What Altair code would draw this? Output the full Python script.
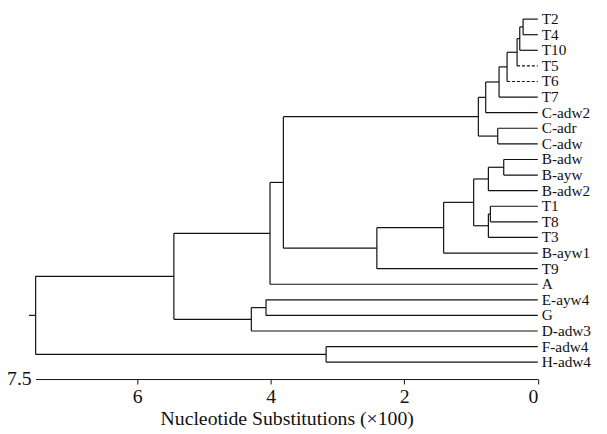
import altair as alt
import pandas as pd

# Leaves in top-to-bottom order
leaves = ["T2", "T4", "T10", "T5", "T6", "T7", "C-adw2", "C-adr", "C-adw",
          "B-adw", "B-ayw", "B-adw2", "T1", "T8", "T3", "B-ayw1", "T9", "A",
          "E-ayw4", "G", "D-adw3", "F-adw4", "H-adw4"]
dashed_leaves = ["T5", "T6"]

# Internal nodes: name, height (nucleotide substitutions x100), children
node_names = ["n1", "n2", "n3", "n4", "n5", "n6", "n7", "n8", "n9", "n10", "n11",
              "n12", "n13", "n14", "n15", "n16", "n17", "n18", "n19", "n20", "n21", "root"]
node_heights = [0.22, 0.27, 0.31, 0.46, 0.58, 0.78, 0.60, 0.89, 0.51, 0.74, 0.71,
                0.74, 0.96, 1.41, 2.41, 3.81, 4.01, 4.07, 4.29, 5.45, 3.17, 7.52]
node_children = [("T2", "T4"), ("n1", "T10"), ("n2", "T5"), ("n3", "T6"), ("n4", "T7"),
                 ("n5", "C-adw2"), ("C-adr", "C-adw"), ("n6", "n7"), ("B-adw", "B-ayw"),
                 ("n9", "B-adw2"), ("T1", "T8"), ("n11", "T3"), ("n10", "n12"),
                 ("n13", "B-ayw1"), ("n14", "T9"), ("n8", "n15"), ("n16", "A"),
                 ("E-ayw4", "G"), ("n18", "D-adw3"), ("n17", "n19"), ("F-adw4", "H-adw4"),
                 ("n20", "n21")]
root_stub = 7.62
axis_ticks = [0, 2, 4, 6]
axis_end_label = "7.5"

# ---- layout from the tree data ----
pos_y = {name: i for i, name in enumerate(leaves)}
pos_x = {name: 0.0 for name in leaves}
for name, h, ch in zip(node_names, node_heights, node_children):
    pos_x[name] = h
    pos_y[name] = sum(pos_y[c] for c in ch) / len(ch)

segs = []
for name, h, ch in zip(node_names, node_heights, node_children):
    ys = [pos_y[c] for c in ch]
    segs.append(dict(x=h, x2=h, y=min(ys), y2=max(ys), dash="solid"))
    for c in ch:
        segs.append(dict(x=h, x2=pos_x[c], y=pos_y[c], y2=pos_y[c],
                         dash="dashed" if c in dashed_leaves else "solid"))
segs.append(dict(x=root_stub, x2=pos_x["root"], y=pos_y["root"], y2=pos_y["root"], dash="solid"))
seg_df = pd.DataFrame(segs)

leaf_df = pd.DataFrame({"label": leaves, "x": [0.0] * len(leaves), "y": list(range(len(leaves)))})

Y_BOTTOM = 23.08
xscale = alt.Scale(domain=[0, 7.52], reverse=True, nice=False, zero=False)
yscale = alt.Scale(domain=[-0.3, Y_BOTTOM], reverse=True, nice=False, zero=False)
FONT = "Liberation Serif, Times New Roman, serif"
INK = "#111111"

x_axis = alt.Axis(values=axis_ticks, format="d", labelFont=FONT, labelFontSize=20,
                  labelColor=INK, labelPadding=3, tickSize=5, tickColor=INK,
                  domainColor=INK, grid=False, title="Nucleotide Substitutions (×100)",
                  titleFont=FONT, titleFontSize=20, titleFontWeight="normal",
                  titleColor=INK, titlePadding=2)

solid = alt.Chart(seg_df).transform_filter(alt.datum.dash == "solid").mark_rule(
    color=INK, strokeWidth=1.2).encode(
    x=alt.X("x:Q", scale=xscale, axis=x_axis), x2="x2:Q",
    y=alt.Y("y:Q", scale=yscale, axis=None), y2="y2:Q")

dashed = alt.Chart(seg_df).transform_filter(alt.datum.dash == "dashed").mark_rule(
    color=INK, strokeWidth=1.2, strokeDash=[3, 2]).encode(
    x=alt.X("x:Q", scale=xscale), x2="x2:Q",
    y=alt.Y("y:Q", scale=yscale), y2="y2:Q")

labels = alt.Chart(leaf_df).mark_text(
    align="left", baseline="middle", dx=4, font=FONT, fontSize=15.5, color=INK).encode(
    x=alt.X("x:Q", scale=xscale), y=alt.Y("y:Q", scale=yscale), text="label:N")

end_df = pd.DataFrame({"x": [7.52], "y": [Y_BOTTOM], "t": [axis_end_label]})
end_label = alt.Chart(end_df).mark_text(
    align="right", baseline="middle", dx=-4, font=FONT, fontSize=20, color=INK).encode(
    x=alt.X("x:Q", scale=xscale), y=alt.Y("y:Q", scale=yscale), text="t:N")

chart = alt.layer(solid, dashed, labels, end_label).properties(
    width=508.6, height=369.3,
    autosize=alt.AutoSizeParams(type="none"),
    padding={"left": 28, "top": 3.8, "right": 62, "bottom": 50},
    background="white",
).configure_view(stroke=None)

chart.save("out.html", embed_options={"renderer": "svg", "actions": False})
